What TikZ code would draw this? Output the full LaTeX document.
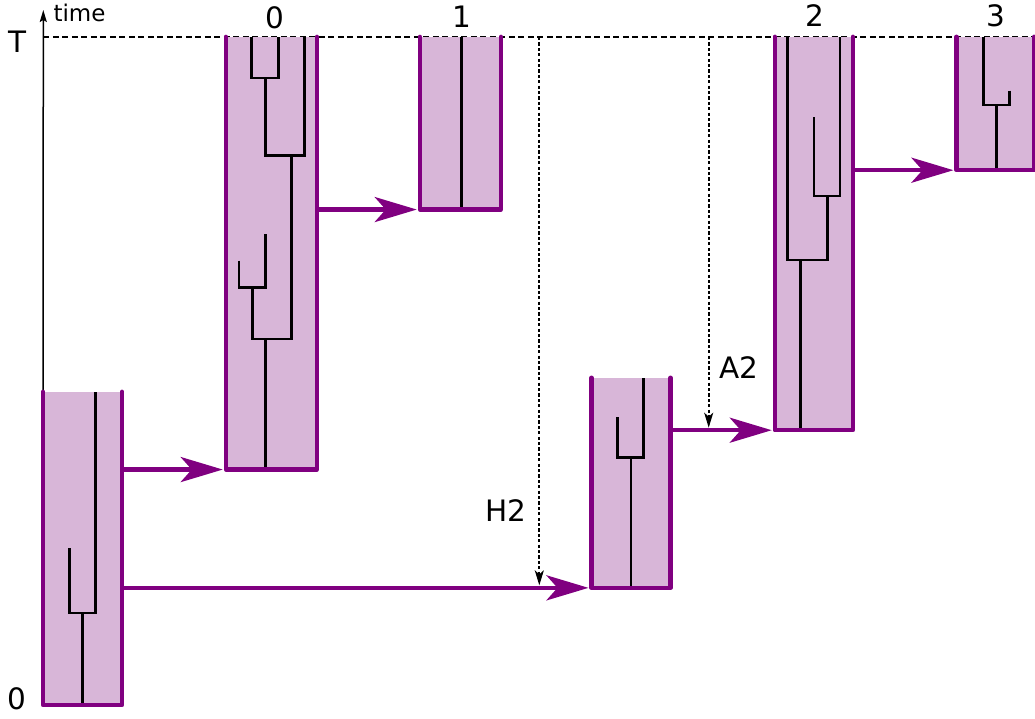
\documentclass[tikz,border=0pt]{standalone}
\usepackage{fontspec}
\setmainfont{DejaVu Sans}
\usetikzlibrary{arrows.meta}
\definecolor{boxfill}{RGB}{216,182,216}
\definecolor{boxline}{RGB}{128,0,128}
\tikzset{
  boxbg/.style={rectangle, fill=boxfill, draw=none, inner sep=0pt},
  boxedge/.style={draw=boxline, line width=4.4pt, line join=round, line cap=round},
  parr/.style={draw=boxline, line width=4.4pt, shorten >=3pt,
    -{Stealth[length=42pt, width=25pt, inset=11pt, fill=boxline]}},
  darr/.style={draw=black, line width=2pt, dash pattern=on 3.2pt off 2.2pt, shorten >=2.5pt,
    -{Stealth[length=15pt, width=9pt, inset=4pt, fill=black]}},
  tree/.style={draw=black, line width=2.9pt},
  lab/.style={inner sep=0pt, font=\fontsize{29.5}{34}\selectfont},
  smalllab/.style={inner sep=0pt, font=\fontsize{23}{26}\selectfont},
}
\begin{document}
\begin{tikzpicture}[x=1pt, y=-1pt]
\useasboundingbox (0,0) rectangle (1035,718);
% axis and top line
\coordinate (axtop) at (43.3,10);
\coordinate (Tleft) at (43.3,37);
\coordinate (Tright) at (1035,37);
\draw[black, line width=1.3pt, dash pattern=on 6pt off 3.5pt] (Tleft) -- (Tright);
% boxes (fill)
\node[boxbg, minimum width=78.4pt, minimum height=313pt] (bB) at (82.5,548.5) {};
\node[boxbg, minimum width=90.7pt, minimum height=432.3pt] (b0) at (271.3,253.2) {};
\node[boxbg, minimum width=80.7pt, minimum height=172.3pt] (b1) at (460.3,123.2) {};
\node[boxbg, minimum width=78.6pt, minimum height=209.7pt] (bH) at (631,482.8) {};
\node[boxbg, minimum width=77.7pt, minimum height=393pt] (b2) at (813.8,233.5) {};
\node[boxbg, minimum width=77.3pt, minimum height=133pt] (b3) at (995.3,103.5) {};
\draw[black, line width=1.5pt, -{Stealth[length=12pt, width=7pt, inset=2pt]}] (bB.north west) -- (axtop);
% trees
\draw[tree] (69.7,548) -- (69.7,613) -- (95.7,613) -- (95.7,392);
\draw[tree] (82.3,613) -- (82.3,705);
\draw[tree] (251.7,37) -- (251.7,78) -- (278.3,78) -- (278.3,37);
\draw[tree] (265.7,78) -- (265.7,155.7) -- (304.3,155.7) -- (304.3,37);
\draw[tree] (239,260.7) -- (239,287.3) -- (265.3,287.3) -- (265.3,234.3);
\draw[tree] (252.3,287.3) -- (252.3,339) -- (291.7,339) -- (291.7,155.7);
\draw[tree] (265.3,339) -- (265.3,469.5);
\draw[tree] (461.3,37) -- (461.3,209);
\draw[tree] (617.7,417.3) -- (617.7,457.3) -- (643.3,457.3) -- (643.3,378);
\draw[tree] (631,457.3) -- (631,587.5);
\draw[tree] (814,117.3) -- (814,196) -- (840,196) -- (840,37);
\draw[tree] (787.3,37) -- (787.3,260) -- (827.3,260) -- (827.3,196);
\draw[tree] (800.7,260) -- (800.7,430);
\draw[tree] (1009.3,90.7) -- (1009.3,105) -- (983.3,105) -- (983.3,37);
\draw[tree] (996.7,105) -- (996.7,170);
% box outlines (open top)
\foreach \b in {bB,b0,b1,bH,b2,b3}{
  \draw[boxedge] (\b.north west) -- (\b.south west) -- (\b.south east) -- (\b.north east);
}
% purple arrows
\draw[parr] (bB.east |- b0.south west) -- (b0.south west);
\draw[parr] (bB.east |- bH.south west) -- (bH.south west);
\draw[parr] (b0.east |- b1.south west) -- (b1.south west);
\draw[parr] (bH.east |- b2.south west) -- (b2.south west);
\draw[parr] (b2.east |- b3.south west) -- (b3.south west);
% dotted arrows
\coordinate (h2top) at (539.3,37);
\coordinate (a2top) at (708.7,37);
\draw[darr] (h2top) -- (h2top |- bH.south);
\draw[darr] (a2top) -- (a2top |- b2.south);
% labels
\node[smalllab] (ltime) at (79.5,12.5) {time};
\node[lab] (lT) at (18,41.5) {T};
\node[lab] (lzero) at (16.7,699) {0};
\node[lab] (l0) at (275,17.5) {0};
\node[lab] (l1) at (461.5,17) {1};
\node[lab] (l2) at (815,16) {2};
\node[lab] (l3) at (996,16) {3};
\node[lab] (lH2) at (505.5,511) {H2};
\node[lab] (lA2) at (739,368) {A2};
\end{tikzpicture}
\end{document}
